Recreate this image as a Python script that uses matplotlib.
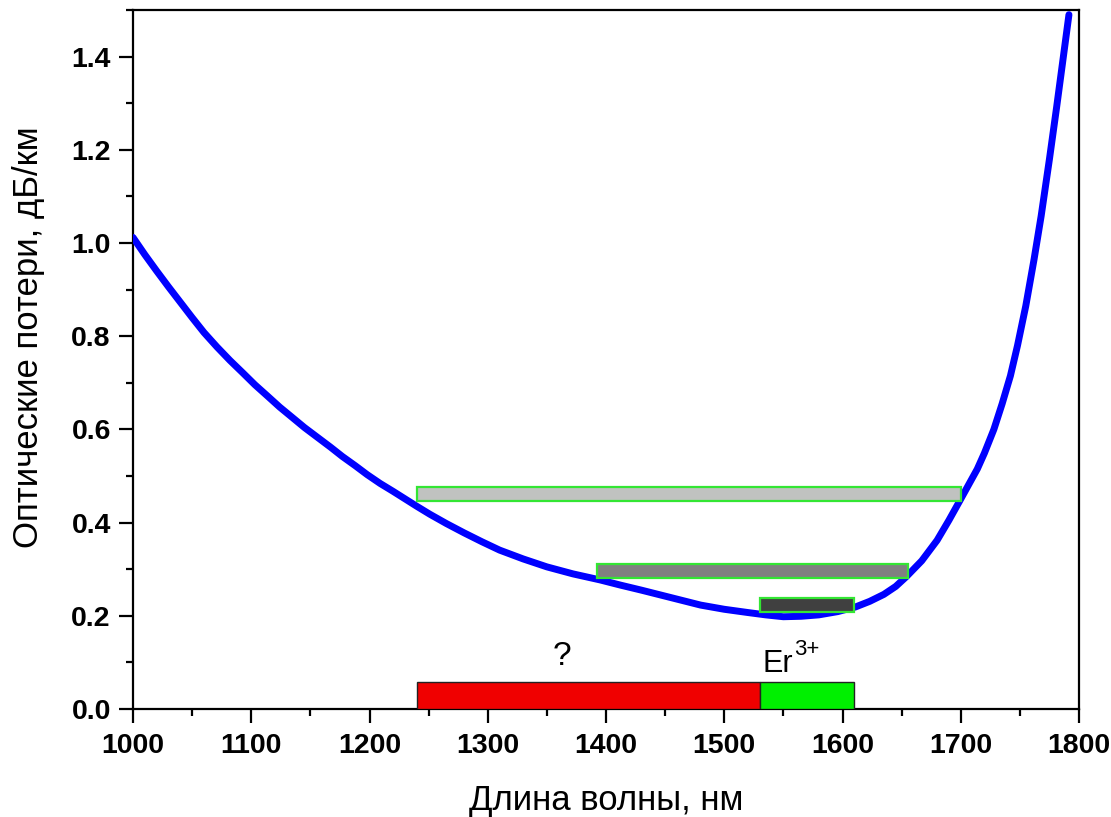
import matplotlib
matplotlib.use("Agg")
import matplotlib.pyplot as plt
from matplotlib.ticker import MultipleLocator

# ---- data ----
wavelength = [1000, 1010, 1020, 1030, 1040, 1050, 1060, 1071, 1082, 1093, 1103, 1114, 1124,
              1135, 1145, 1156, 1167, 1177, 1188, 1198, 1209, 1220, 1230, 1240, 1251,
              1265, 1280, 1295, 1310, 1330, 1350, 1372, 1395, 1412, 1430, 1455, 1480,
              1500, 1520, 1535, 1550, 1565, 1580, 1596, 1611, 1623, 1635, 1645, 1654,
              1667, 1680, 1690, 1699, 1709, 1714, 1720, 1728, 1735, 1742, 1748, 1755,
              1762, 1768, 1775, 1781, 1786, 1791.5]
loss = [1.012, 0.975, 0.940, 0.906, 0.873, 0.840, 0.808, 0.777, 0.748, 0.721, 0.696,
        0.671, 0.648, 0.625, 0.604, 0.583, 0.562, 0.542, 0.522, 0.503, 0.484, 0.467,
        0.451, 0.435, 0.418, 0.398, 0.378, 0.359, 0.341, 0.322, 0.305, 0.290, 0.277,
        0.266, 0.255, 0.239, 0.223, 0.214, 0.207, 0.202, 0.198, 0.199, 0.202, 0.209,
        0.219, 0.231, 0.246, 0.263, 0.284, 0.318, 0.362, 0.405, 0.446, 0.492, 0.515,
        0.549, 0.600, 0.655, 0.715, 0.780, 0.865, 0.965, 1.058, 1.180, 1.290, 1.385,
        1.490]

# horizontal windows (start, end, level, fill colour)
window_start = [1240, 1392, 1530]
window_end = [1700, 1655, 1610]
window_level = [0.462, 0.297, 0.223]
window_colors = ["#c0c2c0", "#808080", "#404040"]

# bottom bands
band_start = [1240, 1530]
band_end = [1530, 1610]
band_height = 0.058
band_colors = ["#f00000", "#00f000"]

x_label = "Длина волны, нм"
y_label = "Оптические потери, дБ/км"

plt.rcParams['font.family'] = ['Liberation Sans', 'DejaVu Sans']
plt.rcParams['mathtext.default'] = 'regular'

fig = plt.figure(figsize=(11.11, 8.17), dpi=100)
ax = fig.add_axes([133/1111, 108/817, (1079-133)/1111, (709-10)/817])

ax.plot(wavelength, loss, color="#0000ff", lw=5.0, solid_capstyle="round",
        solid_joinstyle="round", zorder=3)

bar_h = 0.03
for s, e, lvl, c in zip(window_start, window_end, window_level, window_colors):
    ax.barh(lvl, e - s, left=s, height=bar_h, color=c, edgecolor="#33e633",
            linewidth=1.6, zorder=4)

for s, e, c in zip(band_start, band_end, band_colors):
    ax.bar(s, band_height, width=e - s, align="edge", bottom=0, color=c,
           edgecolor="#222222", linewidth=1.0, zorder=4)

ax.text(1363, 0.094, "?", ha="center", va="baseline", fontsize=24)
er = ax.text(1532, 0.080, "Er", ha="left", va="baseline", fontsize=22)
ax.annotate("3+", xy=(1.0, 0.62), xycoords=er, xytext=(1, 0),
            textcoords="offset points", ha="left", va="bottom", fontsize=16)

ax.set_xlim(1000, 1800)
ax.set_ylim(0, 1.5)
ax.xaxis.set_major_locator(MultipleLocator(100))
ax.xaxis.set_minor_locator(MultipleLocator(50))
ax.yaxis.set_major_locator(MultipleLocator(0.2))
ax.yaxis.set_minor_locator(MultipleLocator(0.1))
ax.yaxis.set_major_formatter(plt.FuncFormatter(lambda v, p: f"{v:.1f}"))

ax.tick_params(which="both", direction="out", top=False, right=False, width=1.6)
ax.tick_params(which="major", length=10, labelsize=20.5)
ax.tick_params(axis="x", which="major", pad=7)
ax.tick_params(axis="y", which="major", pad=6)
ax.tick_params(which="minor", length=5)
for lab in ax.get_xticklabels() + ax.get_yticklabels():
    lab.set_fontweight("bold")
for sp in ax.spines.values():
    sp.set_linewidth(1.6)

ax.set_xlabel(x_label, fontsize=25, labelpad=18)
ax.set_ylabel(y_label, fontsize=25)
ax.yaxis.set_label_coords(-0.093, 0.532)

fig.savefig("out.png", dpi=100)
